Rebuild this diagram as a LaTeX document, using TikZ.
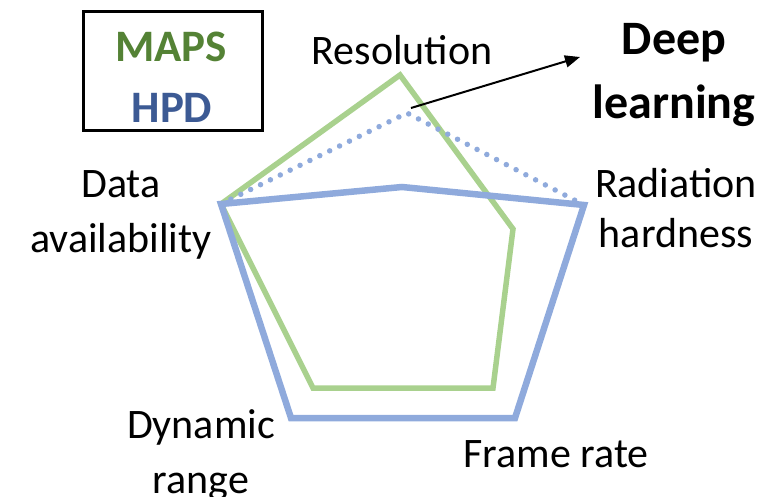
\documentclass[tikz,border=0pt]{standalone}
\usepackage{fontspec}
\setmainfont{Carlito}
\usetikzlibrary{arrows.meta}
\definecolor{mapsline}{HTML}{A9D18E}
\definecolor{hpdline}{HTML}{8FAADC}
\definecolor{mapstext}{HTML}{548235}
\definecolor{hpdtext}{HTML}{3C5A94}
\tikzset{
  axislabel/.style={inner sep=0pt, align=center, anchor=base, font=\fontsize{42}{55}\selectfont},
  legendtext/.style={inner sep=0pt, anchor=base, font=\fontsize{45}{52}\selectfont\bfseries},
  mapspoly/.style={draw=mapsline, line width=5.5pt, line join=miter},
  hpdpoly/.style={draw=hpdline, line width=6.5pt, line join=miter},
  hpddots/.style={draw=hpdline, line width=5.5pt, line cap=round, dash pattern=on 0pt off 11pt},
}
\begin{document}
\begin{tikzpicture}[x=1pt, y=-1pt]
\useasboundingbox (0,0) rectangle (776,497);

% radar vertices: MAPS
\coordinate (mR) at (400,75);
\coordinate (mH) at (513,229);
\coordinate (mF) at (493,388);
\coordinate (mD) at (313,388);
\coordinate (mA) at (221,204);
% radar vertices: HPD
\coordinate (hR) at (402,187);
\coordinate (hH) at (584,205);
\coordinate (hF) at (515,418);
\coordinate (hD) at (291,418);
\coordinate (hA) at (221,204);
% HPD with deep learning (resolution only)
\coordinate (hRdl) at (407,113);

% polygons
\draw[mapspoly] (mR) -- (mH) -- (mF) -- (mD) -- (mA) -- cycle;
\draw[hpdpoly] (hR) -- (hH) -- (hF) -- (hD) -- (hA) -- cycle;
\draw[hpddots] (hA) -- (hRdl) -- (hH);

% axis labels (multi-line labels are placed by the baseline of their last line)
\node[axislabel] (res) at (402,65) {Resolution};
\node[axislabel] (data) at (121,252) {Data\\availability};
\node[axislabel, font=\fontsize{42}{50}\selectfont] (rad) at (676,247) {Radiation\\hardness};
\node[axislabel] (dyn) at (201,493) {Dynamic\\range};
\node[axislabel] (frame) at (556,467) {Frame rate};

% deep learning annotation
\node[inner sep=0pt, align=center, anchor=base, font=\fontsize{48}{64}\selectfont\bfseries] (deep) at (674,119) {Deep\\learning};
\coordinate (dlstart) at (411,108);
\coordinate (dltip) at (580,57);
\draw[line width=2pt, -{Triangle[length=15pt, width=12pt]}] (dlstart) -- (dltip);

% legend
\node[draw, line width=3pt, minimum width=179pt, minimum height=119pt, inner sep=0pt] (legend) at (172.5,71.5) {};
\node[legendtext, text=mapstext] (maps) at (171,62) {MAPS};
\node[legendtext, text=hpdtext] (hpd) at (172,123) {HPD};
\end{tikzpicture}
\end{document}
